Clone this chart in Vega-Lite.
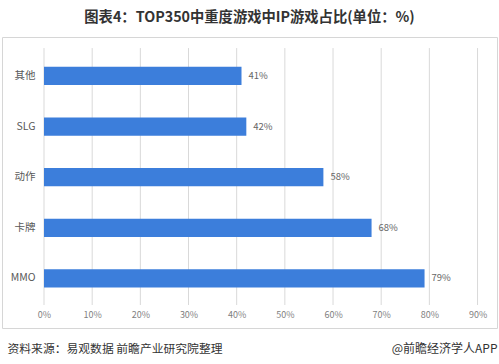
{
  "$schema": "https://vega.github.io/schema/vega-lite/v6.json",
  "width": 495,
  "height": 291,
  "autosize": {"type": "none"},
  "padding": {"left": 2, "top": 37, "right": 2, "bottom": 36},
  "background": "white",
  "config": {
    "font": "Noto Sans CJK SC",
    "view": {"stroke": "#d6d6d6", "strokeWidth": 1},
    "axisX": {
      "grid": false, "domain": false, "ticks": false, "offset": -23, "labelPadding": 5,
      "labelFontSize": 9, "labelColor": "#7f7f7f",
      "labelExpr": "datum.value + '%'",
      "titleAnchor": "start", "titleAlign": "left", "titleBaseline": "middle",
      "titleX": 5, "titleY": 43, "titleFontSize": 11.8, "titleFontWeight": "normal",
      "titleColor": "#333333"
    }
  },
  "title": {
    "text": "图表4：TOP350中重度游戏中IP游戏占比(单位：%)",
    "fontSize": 14.3,
    "fontWeight": "bold",
    "color": "#333333",
    "anchor": "middle",
    "offset": 12
  },
  "datasets": {
    "games": [
      {"type": "其他", "value": 41},
      {"type": "SLG", "value": 42},
      {"type": "动作", "value": 58},
      {"type": "卡牌", "value": 68},
      {"type": "MMO", "value": 79}
    ],
    "ticks": [
      {"t": 0}, {"t": 10}, {"t": 20}, {"t": 30}, {"t": 40},
      {"t": 50}, {"t": 60}, {"t": 70}, {"t": 80}, {"t": 90}
    ]
  },
  "resolve": {"scale": {"y": "independent"}, "axis": {"y": "independent"}},
  "layer": [
    {
      "data": {"name": "ticks"},
      "mark": {"type": "rule", "color": "#d9d9d9", "strokeWidth": 1},
      "encoding": {
        "x": {"field": "t", "type": "quantitative",
              "scale": {"domain": [-8.72, 94.04], "nice": false, "zero": false},
              "axis": {"values": [0, 10, 20, 30, 40, 50, 60, 70, 80, 90],
                       "title": "资料来源：易观数据 前瞻产业研究院整理"}},
        "y": {"datum": 0.962, "type": "quantitative",
              "scale": {"domain": [0, 1], "nice": false},
              "axis": {"orient": "right", "domain": false, "ticks": false, "labels": false, "grid": false,
                       "title": "@前瞻经济学人APP", "titleAngle": 0, "titleAlign": "right",
                       "titleBaseline": "middle", "titleX": 0, "titleY": 311,
                       "titleFontSize": 12, "titleFontWeight": "normal", "titleColor": "#333333"}},
        "y2": {"datum": 0.079}
      }
    },
    {
      "data": {"name": "games"},
      "layer": [
        {
          "mark": {"type": "bar", "color": "#3c7edb"},
          "encoding": {
            "y": {"field": "type", "type": "nominal", "sort": null,
                  "scale": {"paddingInner": 0.64, "paddingOuter": 0.694, "align": 0.425},
                  "axis": {"title": null, "orient": "left", "offset": -42, "domain": false, "ticks": false,
                           "labelPadding": 9, "labelFontSize": 10.5, "labelColor": "#595959", "grid": false}},
            "x": {"field": "value", "type": "quantitative",
                  "axis": {"values": [0, 10, 20, 30, 40, 50, 60, 70, 80, 90],
                           "title": "资料来源：易观数据 前瞻产业研究院整理"}},
            "x2": {"datum": 0}
          }
        },
        {
          "mark": {"type": "text", "align": "left", "baseline": "middle", "dx": 7, "fontSize": 9.5,
                   "color": "#666666", "text": {"expr": "datum.value + '%'"}},
          "encoding": {
            "y": {"field": "type", "type": "nominal", "sort": null},
            "x": {"field": "value", "type": "quantitative",
                  "axis": {"values": [0, 10, 20, 30, 40, 50, 60, 70, 80, 90],
                           "title": "资料来源：易观数据 前瞻产业研究院整理"}}
          }
        }
      ]
    }
  ]
}
